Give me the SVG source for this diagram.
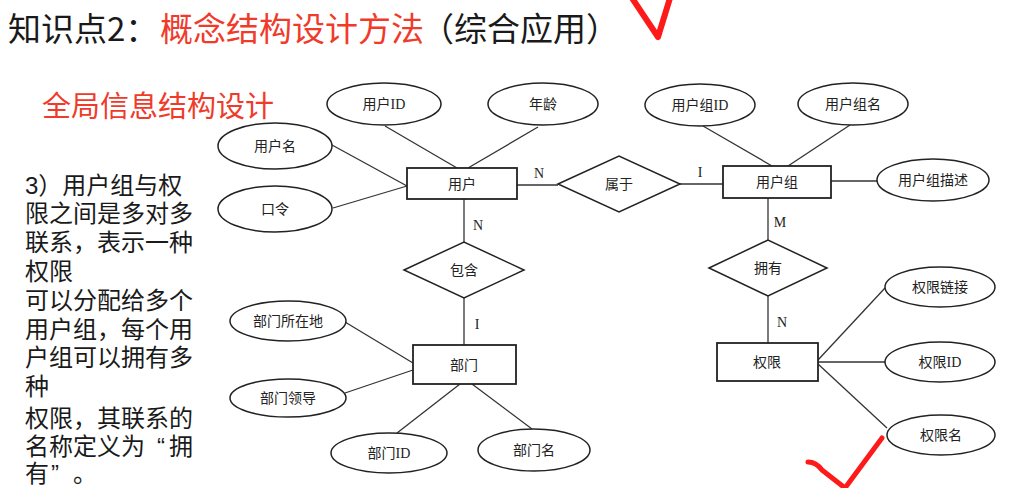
<svg xmlns="http://www.w3.org/2000/svg" width="1014" height="488" viewBox="0 0 1014 488">
<style>
.bg{fill:#ffffff}
.ent{fill:#ffffff;stroke:#222;stroke-width:1.8}
.att{fill:#ffffff;stroke:#222;stroke-width:1.5}
.rel{fill:#ffffff;stroke:#222;stroke-width:1.5}
.lbl{font-family:"Liberation Serif","Noto Sans CJK SC",serif;font-size:14px;fill:#222;text-anchor:middle}
.card{font-family:"Liberation Serif",serif;font-size:14px;fill:#222;text-anchor:middle}
.conn line{stroke:#333;stroke-width:1.3}
.title{font-family:"Noto Sans CJK SC",sans-serif;font-size:33px}
.blk{fill:#1a1a1a}
.red{fill:#f03a2a}
.side{font-family:"Liberation Sans","Noto Sans CJK SC",sans-serif;font-size:24px;fill:#1a1a1a}
.check{fill:none;stroke:#ff1a1a;stroke-linecap:round;stroke-linejoin:round}
</style>
<rect class="bg" x="0" y="0" width="1014" height="488"/>

<g id="title">
<text class="title blk" x="8" y="41">知识点2：</text>
<text class="title red" x="160" y="41">概念结构设计方法</text>
<text class="title blk" x="421" y="41">（综合应用）</text>
</g>
<g id="subtitle">
<text class="red" x="42" y="117" style="font-family:'Noto Sans CJK SC',sans-serif;font-size:29px">全局信息结构设计</text>
</g>
<g id="sidetext" class="side">
<text x="25" y="194">3）用户组与权</text>
<text x="25" y="222">限之间是多对多</text>
<text x="25" y="251">联系，表示一种</text>
<text x="25" y="280">权限</text>
<text x="25" y="309">可以分配给多个</text>
<text x="25" y="338">用户组，每个用</text>
<text x="25" y="366">户组可以拥有多</text>
<text x="25" y="395">种</text>
<text x="25" y="427">权限，其联系的</text>
<text x="25" y="455">名称定义为<tspan dx="12">“</tspan><tspan dx="4">拥</tspan></text>
<text x="25" y="482">有<tspan dx="2">”</tspan><tspan dx="14">。</tspan></text>
</g>

<g id="connectors" class="conn">
<line x1="385" y1="126" x2="457" y2="168"/>
<line x1="538" y1="127" x2="468" y2="168"/>
<line x1="332" y1="145" x2="407" y2="186"/>
<line x1="333" y1="208" x2="407" y2="186"/>
<line x1="517" y1="185" x2="558" y2="185"/>
<line x1="680" y1="184" x2="723" y2="184"/>
<line x1="464" y1="199" x2="464" y2="242"/>
<line x1="464" y1="298" x2="464" y2="345"/>
<line x1="703" y1="126" x2="772" y2="166"/>
<line x1="850" y1="125" x2="788" y2="166"/>
<line x1="831" y1="181" x2="877" y2="181"/>
<line x1="768" y1="198" x2="768" y2="240"/>
<line x1="768" y1="296" x2="768" y2="343"/>
<line x1="345" y1="322" x2="413" y2="363"/>
<line x1="345" y1="393" x2="413" y2="370"/>
<line x1="397" y1="433" x2="460" y2="384"/>
<line x1="532" y1="429" x2="472" y2="384"/>
<line x1="818" y1="360" x2="885" y2="288"/>
<line x1="818" y1="362" x2="885" y2="362"/>
<line x1="818" y1="364" x2="887" y2="428"/>
<text class="card" x="539" y="178">N</text>
<text class="card" x="478" y="230">N</text>
<text class="card" x="700" y="177">I</text>
<text class="card" x="780" y="227">M</text>
<text class="card" x="477" y="329">I</text>
<text class="card" x="782" y="327">N</text>
</g>

<g id="user"><rect class="ent" x="407" y="168" width="110" height="31"/><text class="lbl" x="462" y="189">用户</text></g>
<g id="usergroup"><rect class="ent" x="723" y="166" width="108" height="32"/><text class="lbl" x="777" y="187">用户组</text></g>
<g id="dept"><rect class="ent" x="413" y="345" width="103" height="39"/><text class="lbl" x="464" y="370">部门</text></g>
<g id="perm"><rect class="ent" x="717" y="343" width="101" height="38"/><text class="lbl" x="767" y="367">权限</text></g>

<g id="belong"><polygon class="rel" points="558,184 619,156 680,184 619,212"/><text class="lbl" x="619" y="189">属于</text></g>
<g id="contain"><polygon class="rel" points="404,270 464,242 524,270 464,298"/><text class="lbl" x="464" y="275">包含</text></g>
<g id="own"><polygon class="rel" points="709,268 768,240 827,268 768,296"/><text class="lbl" x="768" y="273">拥有</text></g>

<g id="a-userid"><ellipse class="att" cx="384" cy="104" rx="57" ry="21"/><text class="lbl" x="384" y="109">用户ID</text></g>
<g id="a-age"><ellipse class="att" cx="543" cy="104" rx="55" ry="21"/><text class="lbl" x="543" y="109">年龄</text></g>
<g id="a-username"><ellipse class="att" cx="275" cy="146" rx="57" ry="23"/><text class="lbl" x="275" y="151">用户名</text></g>
<g id="a-pwd"><ellipse class="att" cx="275" cy="209" rx="57" ry="23"/><text class="lbl" x="275" y="214">口令</text></g>
<g id="a-gid"><ellipse class="att" cx="700" cy="105" rx="55" ry="21"/><text class="lbl" x="700" y="110">用户组ID</text></g>
<g id="a-gname"><ellipse class="att" cx="853" cy="104" rx="55" ry="21"/><text class="lbl" x="853" y="109">用户组名</text></g>
<g id="a-gdesc"><ellipse class="att" cx="933" cy="180" rx="56" ry="21"/><text class="lbl" x="933" y="185">用户组描述</text></g>
<g id="a-plink"><ellipse class="att" cx="940" cy="287" rx="55" ry="20"/><text class="lbl" x="940" y="292">权限链接</text></g>
<g id="a-pid"><ellipse class="att" cx="940" cy="362" rx="55" ry="20"/><text class="lbl" x="940" y="367">权限ID</text></g>
<g id="a-pname"><ellipse class="att" cx="941" cy="435" rx="54" ry="20"/><text class="lbl" x="941" y="440">权限名</text></g>
<g id="a-dloc"><ellipse class="att" cx="288" cy="321" rx="58" ry="20"/><text class="lbl" x="288" y="326">部门所在地</text></g>
<g id="a-dlead"><ellipse class="att" cx="288" cy="398" rx="58" ry="19"/><text class="lbl" x="288" y="403">部门领导</text></g>
<g id="a-did"><ellipse class="att" cx="389" cy="453" rx="58" ry="20"/><text class="lbl" x="389" y="458">部门ID</text></g>
<g id="a-dname"><ellipse class="att" cx="534" cy="450" rx="56" ry="21"/><text class="lbl" x="534" y="455">部门名</text></g>

<path class="check" stroke-width="6" d="M632,-2 L658,37 L670,-2"/>
<path class="check" stroke-width="5" d="M808,462 Q816,462 822,470 L845,488 L882,438"/>
</svg>
